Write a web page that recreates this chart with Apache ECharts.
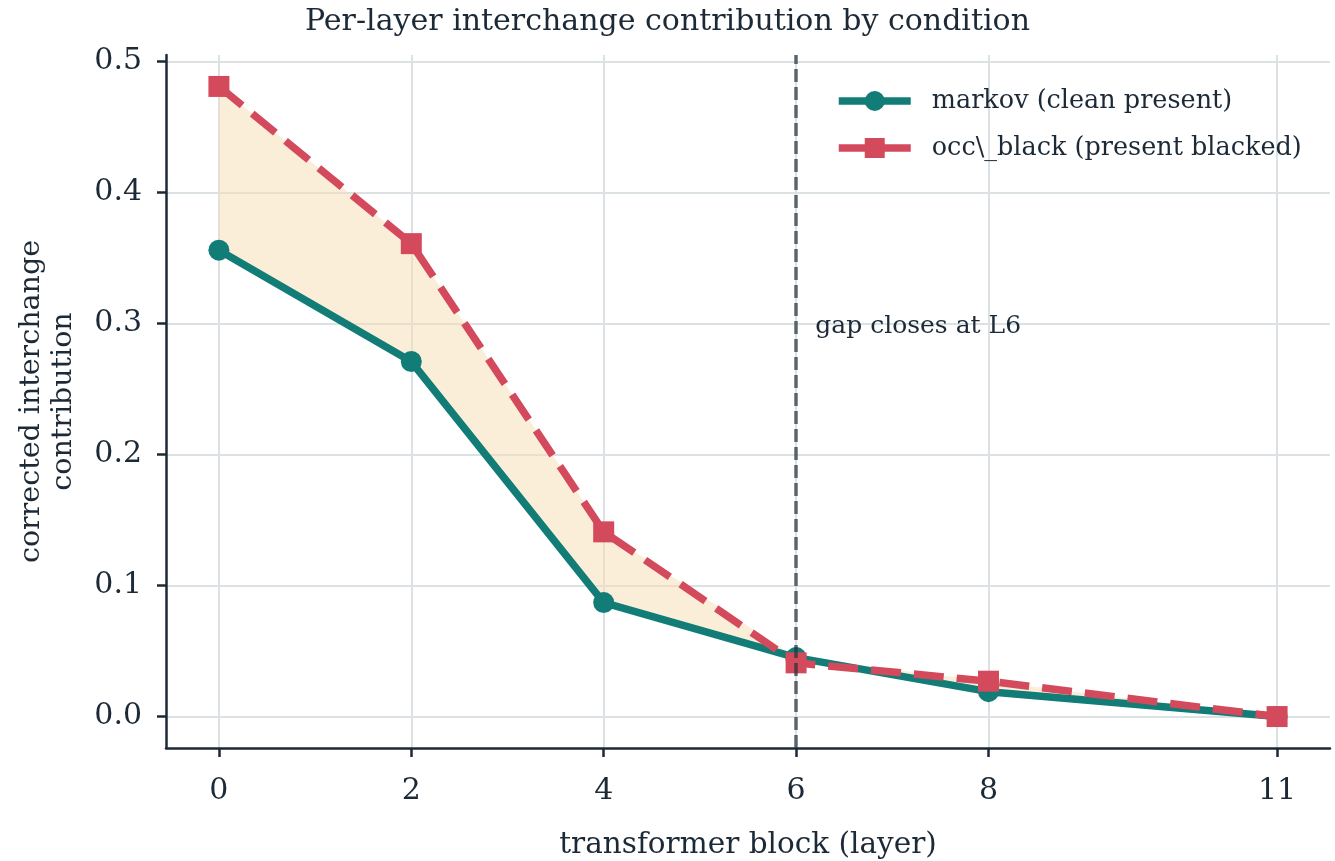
<!DOCTYPE html>
<html>
<head>
    <meta charset="utf-8">
    <title>Per-layer interchange contribution</title>
    <script src="https://cdn.jsdelivr.net/npm/echarts@6.0.0/dist/echarts.min.js"></script>
    <style>
        html, body {margin: 0; padding: 0; background: #fff;}
        #chart {width: 1335px; height: 861px;}
    </style>
</head>
<body>
    <div id="chart"></div>
    <script type="text/javascript">
        // data
        var layers = [0, 2, 4, 6, 8, 11];
        var markov = [0.356, 0.271, 0.087, 0.045, 0.019, 0.0];
        var occBlack = [0.481, 0.361, 0.141, 0.041, 0.027, 0.0];
        var yTicks = [0, 0.1, 0.2, 0.3, 0.4, 0.5];

        var ink = '#1c2a37';
        var font = 'DejaVu Serif';

        function pairs(ys) {
            return layers.map(function (x, i) { return [x, ys[i]]; });
        }

        // shaded band between the two curves, only where occ_black is above markov
        function renderGap(params, api) {
            if (params.dataIndex !== 0) return;
            var pts = [];
            layers.forEach(function (x, i) {
                pts.push(api.coord([x, Math.max(occBlack[i], markov[i])]));
            });
            for (var i = layers.length - 1; i >= 0; i--) {
                pts.push(api.coord([layers[i], markov[i]]));
            }
            return {
                type: 'polygon',
                shape: {points: pts},
                style: {fill: 'rgba(245, 222, 179, 0.5)'}
            };
        }

        var chart = echarts.init(document.getElementById('chart'));
        var option = {
            animation: false,
            title: {
                text: 'Per-layer interchange contribution by condition',
                left: 'center', top: 2,
                textStyle: {fontFamily: font, fontSize: 30, fontWeight: 'normal', color: ink}
            },
            legend: {
                data: ['markov (clean present)', 'occ\\_black (present blacked)'],
                orient: 'vertical', left: 835, top: 88, padding: 0,
                itemWidth: 72, itemHeight: 25, itemGap: 21,
                lineStyle: {width: 7.5},
                textStyle: {fontFamily: font, fontSize: 25.5, color: ink, padding: [0, 0, 0, 16]}
            },
            grid: {left: 166, right: 5, top: 55, bottom: 113, outerBoundsMode: 'none'},
            xAxis: {
                type: 'value', min: -0.55, max: 11.55,
                name: 'transformer block (layer)', nameLocation: 'middle', nameGap: 82,
                nameTextStyle: {fontFamily: font, fontSize: 29.5, color: ink},
                axisLine: {show: true, onZero: false, lineStyle: {color: ink, width: 2.5}},
                axisTick: {show: true, customValues: layers, length: 9, lineStyle: {color: ink, width: 2.5}},
                axisLabel: {customValues: layers, margin: 28, fontFamily: font, fontSize: 30, color: ink},
                splitLine: {show: true, lineStyle: {color: '#dce1e4', width: 2}}
            },
            yAxis: {
                type: 'value', min: -0.024, max: 0.505,
                name: 'corrected interchange\ncontribution', nameLocation: 'middle', nameGap: 86,
                nameTextStyle: {fontFamily: font, fontSize: 28.5, color: ink, lineHeight: 32},
                axisLine: {show: true, onZero: false, lineStyle: {color: ink, width: 2.5}},
                axisTick: {show: true, customValues: yTicks, length: 9, lineStyle: {color: ink, width: 2.5}},
                axisLabel: {customValues: yTicks, margin: 24, fontFamily: font, fontSize: 30, color: ink,
                    formatter: function (v) { return v.toFixed(1); }},
                splitLine: {show: true, lineStyle: {color: '#dce1e4', width: 2}}
            },
            series: [
                {
                    name: 'gap', type: 'custom', data: [[0, 0]],
                    renderItem: renderGap, silent: true, z: 1
                },
                {
                    name: 'markov (clean present)', type: 'line', data: pairs(markov),
                    symbol: 'circle', symbolSize: 21, z: 3,
                    lineStyle: {color: '#127c77', width: 7.5},
                    itemStyle: {color: '#127c77'}
                },
                {
                    name: 'occ\\_black (present blacked)', type: 'line', data: pairs(occBlack),
                    symbol: 'rect', symbolSize: 21, z: 4,
                    lineStyle: {color: '#d44a5d', width: 7.5, type: [30, 13]},
                    itemStyle: {color: '#d44a5d'}
                },
                {
                    // vertical guide at layer 6 and its note, drawn on top of the markers
                    name: 'guide', type: 'line', data: [], z: 10, silent: true,
                    markLine: {
                        silent: true, symbol: 'none', label: {show: false},
                        lineStyle: {color: 'rgba(38, 50, 60, 0.72)', type: [13, 5], width: 3.5},
                        data: [{xAxis: 6}]
                    },
                    markPoint: {
                        symbol: 'circle', symbolSize: 0,
                        label: {
                            show: true, position: 'right', distance: 0,
                            formatter: 'gap closes at L6',
                            fontFamily: font, fontSize: 25, color: ink
                        },
                        data: [{coord: [6.2, 0.298]}]
                    }
                }
            ]
        };
        chart.setOption(option);
    </script>
</body>
</html>
